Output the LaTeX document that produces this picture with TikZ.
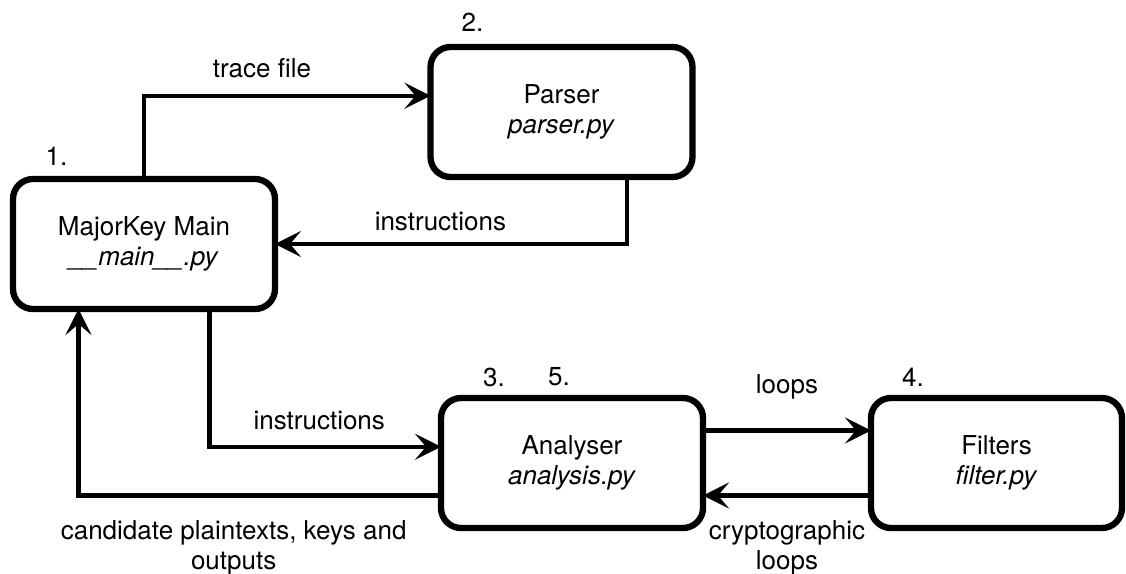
\documentclass[tikz,border=0pt]{standalone}
\usepackage{fontspec}
\setmainfont{TeX Gyre Heros}
\usetikzlibrary{arrows.meta,positioning,calc}

\begin{document}
\begin{tikzpicture}[
  font=\fontsize{14.8}{17}\selectfont,
  mbox/.style={draw,rectangle,rounded corners=0.4cm,minimum width=5.24cm,minimum height=2.6cm,
               line width=3.6pt,outer sep=0pt,align=center},
  lbl/.style={align=center,inner sep=0pt},
  num/.style={inner sep=0pt},
  arr/.style={line width=2.5pt,-{Stealth[length=0.52cm,width=0.52cm,inset=0.22cm]}},
]
  \useasboundingbox (0,0) rectangle (22.52,-11.46);

  % Boxes
  \node[mbox] (main) at (2.88,-4.88) {MajorKey Main\\\textit{\_\_main\_\_.py}};
  \node[mbox,right=3.11cm of main,yshift=2.64cm] (parser) {Parser\\\textit{parser.py}};
  \node[mbox,below=4.42cm of parser,xshift=0.21cm] (anal) {Analyser\\\textit{analysis.py}};
  \node[mbox,right=3.36cm of anal,minimum width=5.02cm] (filt) {Filters\\\textit{filter.py}};

  % Step numbers
  \node[num] (n1) at ([shift={(0.87,0.46)}]main.north west) {1.};
  \node[num] (n2) at ([shift={(0.84,0.50)}]parser.north west) {2.};
  \node[num] (n3) at ([shift={(1.06,0.42)}]anal.north west) {3.};
  \node[num] (n5) at ([shift={(2.36,0.42)}]anal.north west) {5.};
  \node[num] (n4) at ([shift={(0.84,0.42)}]filt.north west) {4.};

  % Arrows
  \draw[arr] (main.north) |- ($(parser.north west)!0.375!(parser.south west)$)
    node[lbl,pos=0.706,yshift=0.56cm] (ltrace) {trace file};
  \draw[arr] ($(parser.south west)!0.75!(parser.south east)$) |- (main.east)
    node[lbl,pos=0.765,yshift=0.45cm] (linstr) {instructions};
  \draw[arr] ($(main.south west)!0.75!(main.south east)$) |- ($(anal.north west)!0.375!(anal.south west)$)
    node[lbl,pos=0.737,yshift=0.535cm] (linstrb) {instructions};
  \draw[arr] ($(anal.north west)!0.75!(anal.south west)$) -| ($(main.south west)!0.25!(main.south east)$)
    node[lbl,pos=0.286,yshift=-1.05cm] (lcand) {candidate plaintexts, keys and\\outputs};
  \draw[arr] ($(anal.north east)!0.25!(anal.south east)$) -- ($(filt.north west)!0.25!(filt.south west)$)
    node[lbl,midway,yshift=0.87cm] (lloops) {loops};
  \draw[arr] ($(filt.north west)!0.75!(filt.south west)$) -- ($(anal.north east)!0.75!(anal.south east)$)
    node[lbl,midway,yshift=-1.04cm] (lcrypto) {cryptographic\\loops};
\end{tikzpicture}
\end{document}
